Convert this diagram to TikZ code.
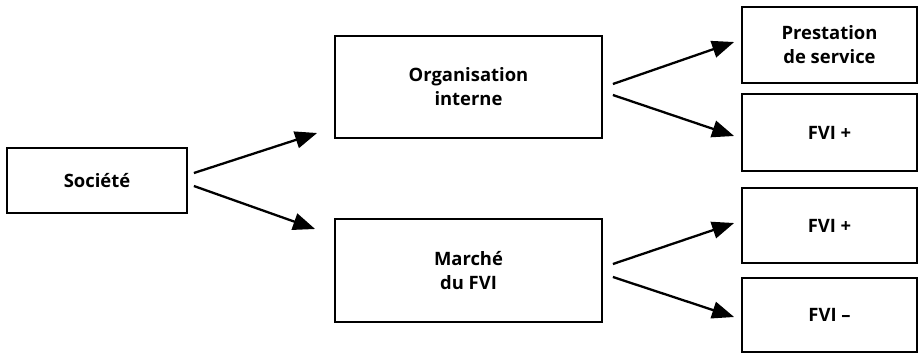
\documentclass[tikz,border=0pt]{standalone}
\usepackage{fontspec}
\setmainfont{Open Sans}
\usetikzlibrary{arrows.meta,calc}
\begin{document}
\begin{tikzpicture}[x=1bp,y=-1bp,
  box/.style={draw,line width=1.8bp,minimum width=#1,inner sep=0pt,align=center,font=\bfseries\fontsize{18.5}{24}\selectfont},
  arr/.style={line width=2.3bp,-{Triangle[length=22bp,width=17bp]}}]
\useasboundingbox (0,0) rectangle (918,354);
\node[box=180bp,minimum height=65bp] (soc) at (97,180.5) {Société};
\node[box=267bp,minimum height=102bp] (org) at (468.5,87) {Organisation\\interne};
\node[box=267bp,minimum height=103bp] (mar) at (468.5,270.5) {Marché\\du FVI};
\node[box=175bp,minimum height=76bp] (pre) at (829.5,45) {Prestation\\de service};
\node[box=175bp,minimum height=77bp] (fa) at (829.5,132.5) {FVI +};
\node[box=175bp,minimum height=75bp] (fb) at (829.5,225.5) {FVI +};
\node[box=175bp,minimum height=74bp] (fc) at (829.5,315) {FVI –};
\draw[arr] ($(soc.east)+(6,-7.5)$) -- ($(org.west)+(-17,46)$);
\draw[arr] ($(soc.east)+(6,5.5)$) -- ($(mar.west)+(-19,-41.5)$);
\draw[arr] ($(org.east)+(10,-3)$) -- ($(pre.west)+(-7,-3)$);
\draw[arr] ($(org.east)+(10,8)$) -- ($(fa.west)+(-7,3.5)$);
\draw[arr] ($(mar.east)+(10,-6.5)$) -- ($(fb.west)+(-7,-2.5)$);
\draw[arr] ($(mar.east)+(10,6.5)$) -- ($(fc.west)+(-7,2)$);
\end{tikzpicture}
\end{document}
